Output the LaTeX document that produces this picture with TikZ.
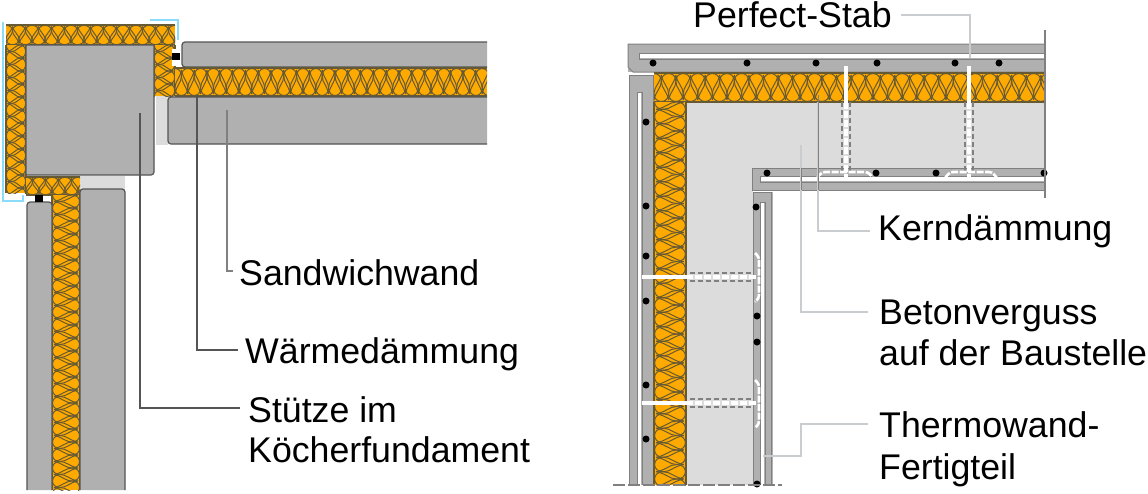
\documentclass[tikz,border=0pt]{standalone}
\usepackage{fontspec}
\setmainfont{Liberation Sans}
\definecolor{panel}{HTML}{B0B0B0}
\definecolor{infill}{HTML}{DCDCDC}
\definecolor{orng}{HTML}{FFAA00}
\definecolor{mesh}{HTML}{665A35}
\definecolor{edgeg}{HTML}{555555}
\definecolor{skyb}{HTML}{8ADCFA}
\definecolor{leadl}{HTML}{C9CDD0}
\tikzset{
  panelbox/.style={fill=panel,draw=edgeg,line width=1.2pt,rounded corners=3pt},
  lead/.style={draw=#1,line width=1.4pt},
  lead/.default=edgeg,
  lab/.style={anchor=north west,inner sep=0pt,align=left,font=\fontsize{35.7}{41}\selectfont,text=black},
  rebar/.style={fill=black,draw=none,circle,minimum size=7pt,inner sep=0pt},
  stab/.style={draw=gray,line width=1.3pt,dash pattern=on 5pt off 3pt},
  whitedash/.style={white,line width=3.2pt,dash pattern=on 7pt off 2pt},
  whiteloop/.style={white,line width=2.6pt,rounded corners=3pt,dash pattern=on 7pt off 1.5pt},
  blueline/.style={draw=skyb,line width=2pt}
}
% the two staggered rows of drops, in unit coordinates
\newcommand{\dropnet}[1]{%
  \foreach \i in {0,...,#1}{
    \draw[mesh,line width=1pt] (\i,.93) .. controls (\i-.12,.62) and (\i-.5,.52) .. (\i-.5,.29) .. controls (\i-.5,.1) and (\i-.25,.02) .. (\i,.02) .. controls (\i+.25,.02) and (\i+.5,.1) .. (\i+.5,.29) .. controls (\i+.5,.52) and (\i+.12,.62) .. (\i,.93);
    \draw[mesh,line width=1pt] (\i+.5,.07) .. controls (\i+.38,.38) and (\i,.48) .. (\i,.71) .. controls (\i,.9) and (\i+.25,.98) .. (\i+.5,.98) .. controls (\i+.75,.98) and (\i+1,.9) .. (\i+1,.71) .. controls (\i+1,.48) and (\i+.62,.38) .. (\i+.5,.07);
  }
}
% horizontal insulation band: x1,y1,x2,y2,period
\newcommand{\insH}[5]{%
  \fill[orng] (#1,#2) rectangle (#3,#4);
  \begin{scope}
    \clip (#1,#2) rectangle (#3,#4);
    \pgfmathtruncatemacro{\ndrop}{(#3-#1)/#5+1}
    \pgfmathsetmacro{\bandh}{#4-#2}
    \begin{scope}[shift={(#1,#2)},x={(#5 pt,0pt)},y={(0pt,-\bandh pt)}]
      \dropnet{\ndrop}
    \end{scope}
  \end{scope}
  \draw[mesh,line width=1.4pt] (#1,#2) -- (#3,#2) (#1,#4) -- (#3,#4);
}
% vertical insulation band: x1,y1,x2,y2,period
\newcommand{\insV}[5]{%
  \fill[orng] (#1,#2) rectangle (#3,#4);
  \begin{scope}
    \clip (#1,#2) rectangle (#3,#4);
    \pgfmathtruncatemacro{\ndrop}{(#4-#2)/#5+1}
    \pgfmathsetmacro{\bandh}{#3-#1}
    \begin{scope}[shift={(#1,#2)},x={(0pt,-#5 pt)},y={(\bandh pt,0pt)}]
      \dropnet{\ndrop}
    \end{scope}
  \end{scope}
  \draw[mesh,line width=1.4pt] (#1,#2) -- (#1,#4) (#3,#2) -- (#3,#4);
}
\begin{document}
\begin{tikzpicture}[x=1pt,y=-1pt]
\useasboundingbox (0,0) rectangle (1148,493);
\fill[white] (0,0) rectangle (1148,493);

%%%% LEFT DETAIL
\fill[infill] (156,96) rectangle (168,145);
\fill[infill] (80,176) rectangle (125,190);
\draw[blueline] (3,22) -- (3,201) -- (23,201) -- (23,195);
\draw[blueline] (150,20) -- (178,20) -- (178,40);
\insH{6}{25}{175}{45}{13}
\insV{6}{45}{26}{193}{13}
\insV{154}{45}{175}{96}{13}
\insH{26}{177}{80}{195}{13}
\draw[fill=panel,draw=edgeg,line width=1.2pt] (26,175) -- (26,45) -- (154,45) [rounded corners=3pt] -- (154,175) -- (26,175);
\draw[panelbox] (487,42) -- (182,42) -- (182,67) -- (487,67);
\insH{175}{68}{487}{96}{12.8}
\draw[panelbox] (487,97) -- (168,97) -- (168,144) -- (487,144);
\insV{52}{195}{80}{490}{13}
\draw[panelbox] (27,490) -- (27,202) -- (52,202) -- (52,490);
\draw[panelbox] (80,490) -- (80,189) -- (125,189) -- (125,490);
\fill[white] (172,49) rectangle (180,66);
\fill[black] (172,53) rectangle (180,60);
\fill[white] (29,197) rectangle (51,201);
\fill[black] (35,195) rectangle (43,202);

%%%% RIGHT DETAIL
\fill[infill] (686,102) rectangle (1045,168);
\fill[infill] (686,168) rectangle (753,485);
% outer leaf top
\fill[panel] (628,44) rectangle (1045,72);
\draw[gray,line width=1pt] (1045,44) -- (628,44) -- (628,67) -- (633,72) -- (1045,72);
\fill[white] (639,54) rectangle (1045,58);
\draw[gray,line width=1pt] (1045,53) -- (639,53) -- (639,59) -- (1045,59);
\insH{654}{73}{1045}{102}{14.6}
% outer leaf left
\fill[panel] (629,75) rectangle (654,485);
\draw[gray,line width=1pt] (629,485) -- (629,75) -- (653,75) -- (653,485);
\fill[white] (638,92) rectangle (641,485);
\draw[gray,line width=0.8pt] (637,485) -- (637,92) -- (642,92) -- (642,485);
\insV{654}{102}{686}{485}{14.5}
% inner leaf horizontal
\fill[panel] (752,168) rectangle (1045,190);
\draw[gray,line width=1pt] (1045,168) -- (752,168) -- (752,190) -- (1045,190);
\fill[white] (760,177) rectangle (1045,181);
\draw[gray,line width=0.7pt] (1045,176) -- (760,176) -- (760,182) -- (1045,182);
% inner leaf vertical
\fill[panel] (753,192) rectangle (773,485);
\draw[gray,line width=1pt] (753,485) -- (753,192) -- (771,192) -- (771,485);
\fill[white] (761,202) rectangle (764,485);
\draw[gray,line width=0.7pt] (760,485) -- (760,202) -- (765,202) -- (765,485);
% Perfect-Stab
\foreach \sx in {846,969}{
  \draw[stab] (\sx-4,102) -- (\sx-4,172);
  \draw[stab] (\sx+4,102) -- (\sx+4,172);
  \draw[white,line width=3.4pt] (\sx,66) -- (\sx,102);
  \draw[whitedash] (\sx,102) -- (\sx,178);
}
\draw[whiteloop] (817,178) -- (822,172) -- (868,172) -- (873,178);
\draw[whiteloop] (945,178) -- (950,172) -- (992,172) -- (997,178);
\foreach \sy in {277,403}{
  \draw[stab] (690,\sy-4) -- (753,\sy-4);
  \draw[stab] (690,\sy+4) -- (753,\sy+4);
  \draw[white,line width=3.4pt] (642,\sy) -- (686,\sy);
  \draw[whitedash] (686,\sy) -- (758,\sy);
}
\draw[whiteloop] (755,253) -- (759,257) -- (759,298) -- (755,302);
\draw[whiteloop] (755,380) -- (759,384) -- (759,424) -- (755,428);
\foreach \dx/\dy [count=\di] in {653/63,747/63,816/63,877/63,955/63,999/63,646/122,646/206,646/256,646/301,646/385,646/439,767/173,876/173,936/173,1044/173,756/207,757/316,757/342,757/484}{
  \node[rebar] (bar\di) at (\dx,\dy) {};
}
\draw[gray,line width=1.3pt] (1045,30) -- (1045,198);
\draw[gray,line width=1.3pt,dash pattern=on 12pt off 3pt] (613,485) -- (782,485);

%%%% LABELS
\node[lab] (sandw) at (239,259) {Sandwichwand};
\node[lab] (waerme) at (245,337) {Wärmedämmung};
\node[lab] (stuetze) at (248,396) {Stütze im\\[-1pt]Köcherfundament};
\node[lab] (perfect) at (693,1) {Perfect-Stab};
\node[lab] (kern) at (878,214) {Kerndämmung};
\node[lab] (beton) at (879,300) {Betonverguss\\auf der Baustelle};
\node[lab] (thermo) at (879,411) {Thermowand-\\[1pt]Fertigteil};

%%%% LEADERS
\coordinate (sandwS) at (227,110);
\coordinate (sandwE) at (233,271);
\coordinate (waermeS) at (197,95);
\coordinate (waermeE) at (238,350);
\coordinate (stuetzeS) at (140,113);
\coordinate (stuetzeE) at (240,408);
\coordinate (perfectE) at (901,15);
\coordinate (perfectS) at (970,58);
\coordinate (kernS) at (818,102);
\coordinate (kernE) at (870,231);
\coordinate (betonS) at (801,145);
\coordinate (betonE) at (868,312);
\coordinate (thermoS) at (763,456);
\coordinate (thermoM) at (801,424);
\coordinate (thermoE) at (868,424);
\draw[lead=gray] (sandwS) |- (sandwE);
\draw[lead] (waermeS) |- (waermeE);
\draw[lead] (stuetzeS) |- (stuetzeE);
\draw[lead=leadl] (perfectE) -| (perfectS);
\draw[lead=leadl] (kernS) |- (kernE);
\draw[lead=leadl] (betonS) |- (betonE);
\draw[lead=leadl] (thermoS) -| (thermoM) -- (thermoE);
\draw[gray,line width=1pt] (818,95) -- (818,190);
\draw[gray,line width=1pt] (801,168) -- (801,190);
\end{tikzpicture}
\end{document}
